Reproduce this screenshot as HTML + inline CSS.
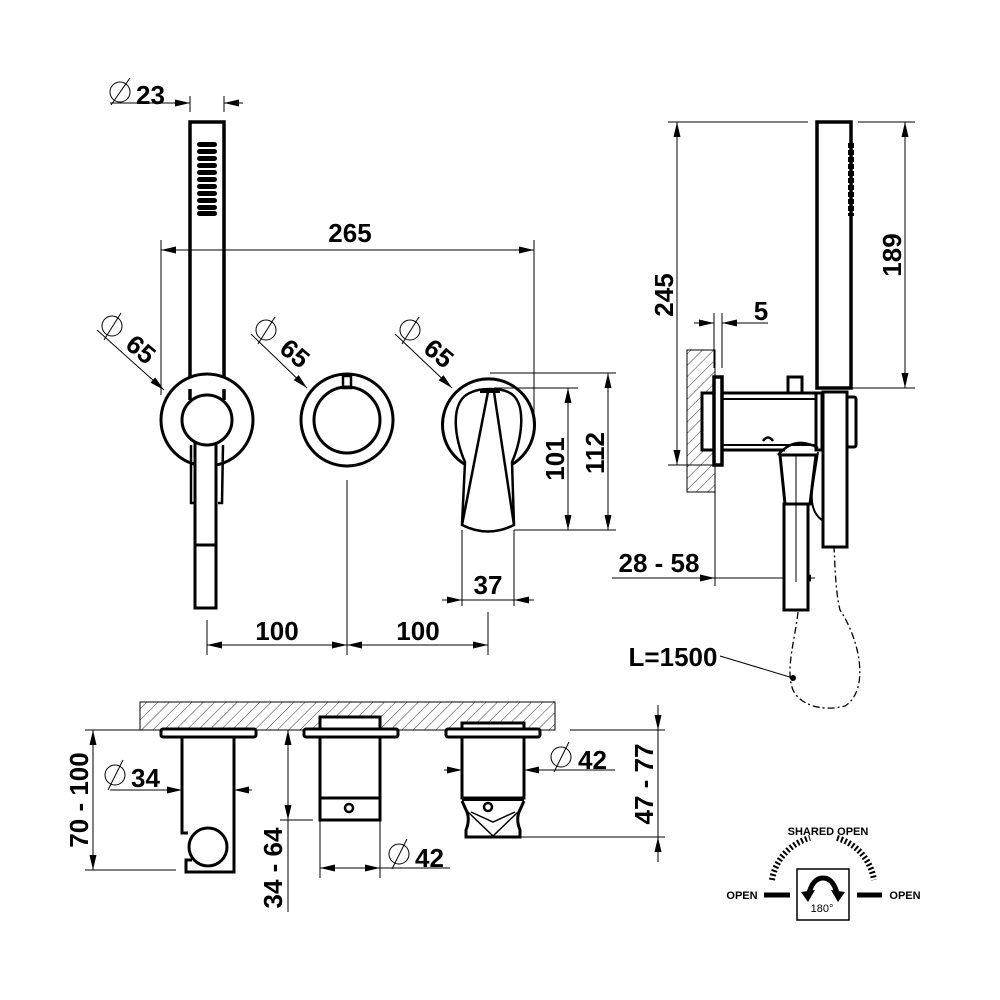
<!DOCTYPE html>
<html><head><meta charset="utf-8"><style>
html,body{margin:0;padding:0;background:#fff}
svg{display:block}
text{font-family:"Liberation Sans",Arial,sans-serif;font-weight:bold;fill:#000}
</style></head><body>
<svg width="1000" height="1000" viewBox="0 0 1000 1000" xmlns="http://www.w3.org/2000/svg">
<defs>
<marker id="a" markerUnits="userSpaceOnUse" markerWidth="16" markerHeight="8" refX="15" refY="3.5" orient="auto-start-reverse"><path d="M0,0 L15,3.5 L0,7 z" fill="#000"/></marker>
<pattern id="h" patternUnits="userSpaceOnUse" width="8" height="8" patternTransform="rotate(45)"><line x1="0" y1="0" x2="0" y2="8" stroke="#000" stroke-width="0.8"/></pattern>
</defs>
<g fill="none" stroke="#000">
<g stroke-width="1">
<line x1="110" y1="103" x2="190" y2="103" marker-end="url(#a)"/>
<line x1="243" y1="103" x2="224" y2="103" marker-end="url(#a)"/>
<line x1="190" y1="96" x2="190" y2="112"/><line x1="224" y1="96" x2="224" y2="112"/>
<circle cx="120" cy="92" r="10"/><line x1="111" y1="105" x2="130" y2="78"/>
</g>
<rect x="190" y="122" width="34" height="266" stroke-width="3.5"/>
<line x1="190" y1="387" x2="224" y2="387" stroke-width="5"/>
<g fill="#000" stroke="none">
<rect x="197" y="142" width="20" height="5" rx="2.5"/><rect x="197" y="149" width="20" height="5" rx="2.5"/><rect x="197" y="156" width="20" height="5" rx="2.5"/><rect x="197" y="163" width="20" height="5" rx="2.5"/><rect x="197" y="170" width="20" height="5" rx="2.5"/><rect x="197" y="177" width="20" height="5" rx="2.5"/><rect x="197" y="184" width="20" height="5" rx="2.5"/><rect x="197" y="191" width="20" height="5" rx="2.5"/><rect x="197" y="198" width="20" height="5" rx="2.5"/><rect x="197" y="205" width="20" height="5" rx="2.5"/><rect x="197" y="211" width="20" height="5" rx="2.5"/>
</g>
<g stroke-width="1">
<line x1="161" y1="250" x2="534" y2="250" marker-start="url(#a)" marker-end="url(#a)"/>
<line x1="161" y1="240" x2="161" y2="395"/><line x1="534" y1="240" x2="534" y2="420"/>
</g>
<circle cx="207" cy="420" r="46" stroke-width="3" fill="#fff"/>
<line x1="190" y1="389" x2="190" y2="400" stroke-width="3.5"/><line x1="224" y1="389" x2="224" y2="400" stroke-width="3.5"/>
<path d="M191,445 L191,503 L195,503 M223,445 L222,503 L218,503" stroke-width="2.5"/>
<rect x="195" y="440" width="21" height="168" stroke-width="3" fill="#fff"/>
<line x1="195" y1="545" x2="216" y2="545" stroke-width="3"/>
<circle cx="207" cy="420" r="25" stroke-width="3" fill="#fff"/>
<circle cx="347" cy="420" r="46" stroke-width="3"/>
<circle cx="347" cy="420" r="33" stroke-width="3"/>
<rect x="343" y="376" width="8" height="12" stroke-width="2.5"/>
<line x1="347" y1="480" x2="347" y2="655" stroke-width="1"/>
<path d="M466,465 A46,46 0 1,1 511,465" stroke-width="3"/>
<path d="M465,462 C455,440 448,400 472,392 C480,388 500,388 508,392 C528,400 522,440 512,462 L514,525 Q488,538 462,525 Z" stroke-width="2.5" fill="#fff"/>
<path d="M488,392 L462,525 M494,392 L514,525" stroke-width="2.5"/>
<line x1="480" y1="391" x2="500" y2="391" stroke-width="4"/>
<g stroke-width="1">
<line x1="490" y1="373" x2="616" y2="373"/><line x1="494" y1="388" x2="578" y2="388"/>
<line x1="514" y1="530" x2="616" y2="530"/>
<line x1="568" y1="388" x2="568" y2="530" marker-start="url(#a)" marker-end="url(#a)"/>
<line x1="608" y1="373" x2="608" y2="530" marker-start="url(#a)" marker-end="url(#a)"/>
<line x1="462" y1="530" x2="462" y2="606"/><line x1="514" y1="530" x2="514" y2="606"/>
<line x1="442" y1="600" x2="462" y2="600" marker-end="url(#a)"/>
<line x1="534" y1="600" x2="514" y2="600" marker-end="url(#a)"/>
<line x1="462" y1="600" x2="514" y2="600"/>
<line x1="207" y1="620" x2="207" y2="655"/><line x1="488" y1="612" x2="488" y2="655"/>
<line x1="207" y1="645" x2="347" y2="645" marker-start="url(#a)" marker-end="url(#a)"/>
<line x1="347" y1="645" x2="488" y2="645" marker-start="url(#a)" marker-end="url(#a)"/>
<line x1="97" y1="330" x2="164" y2="390" marker-end="url(#a)"/>
<line x1="251" y1="334" x2="307" y2="388" marker-end="url(#a)"/>
<line x1="395" y1="334" x2="452" y2="388" marker-end="url(#a)"/>
<circle cx="112" cy="326" r="10"/><line x1="104" y1="340" x2="121" y2="313"/>
<circle cx="266" cy="330" r="10"/><line x1="258" y1="344" x2="275" y2="317"/>
<circle cx="410" cy="330" r="10"/><line x1="402" y1="344" x2="419" y2="317"/>
</g>
</g>
<text x="136" y="104" font-size="26">23</text>
<text x="350" y="250" font-size="26" text-anchor="middle" dy="-8">265</text>
<text transform="translate(124,347) rotate(40)" font-size="26">65</text>
<text transform="translate(278,351) rotate(40)" font-size="26">65</text>
<text transform="translate(422,351) rotate(40)" font-size="26">65</text>
<text transform="translate(564,459) rotate(-90)" font-size="26" text-anchor="middle">101</text>
<text transform="translate(604,453) rotate(-90)" font-size="26" text-anchor="middle">112</text>
<text x="488" y="594" font-size="26" text-anchor="middle">37</text>
<text x="277" y="640" font-size="26" text-anchor="middle">100</text>
<text x="418" y="640" font-size="26" text-anchor="middle">100</text>

<g fill="none" stroke="#000">
<rect x="687" y="350" width="28" height="142" fill="url(#h)" stroke-width="1"/>
<g stroke-width="1">
<line x1="668" y1="122" x2="808" y2="122"/><line x1="668" y1="465" x2="718" y2="465"/>
<line x1="677" y1="122" x2="677" y2="465" marker-start="url(#a)" marker-end="url(#a)"/>
<line x1="858" y1="122" x2="915" y2="122"/><line x1="852" y1="388" x2="915" y2="388"/>
<line x1="905" y1="122" x2="905" y2="388" marker-start="url(#a)" marker-end="url(#a)"/>
<line x1="714" y1="313" x2="714" y2="368"/><line x1="722" y1="313" x2="722" y2="368"/>
<line x1="694" y1="323" x2="714" y2="323" marker-end="url(#a)"/>
<line x1="768" y1="323" x2="722" y2="323" marker-end="url(#a)"/>
<line x1="715" y1="465" x2="715" y2="586"/>
<line x1="612" y1="578" x2="715" y2="578" marker-end="url(#a)"/>
<line x1="715" y1="578" x2="815" y2="578"/>
<line x1="815" y1="578" x2="796" y2="578" marker-end="url(#a)"/>
</g>
<rect x="817" y="122" width="34" height="266" stroke-width="3.5"/>
<path d="M851,143 L851,216" stroke="#000" stroke-width="6" stroke-dasharray="5 2"/>
<rect x="702" y="393" width="13" height="57" stroke-width="3" fill="#fff"/>
<rect x="714" y="377" width="8" height="88" stroke-width="3.5" fill="#fff"/>
<line x1="722" y1="393" x2="817" y2="393" stroke-width="3"/><line x1="722" y1="399" x2="817" y2="399" stroke-width="2"/>
<line x1="722" y1="445" x2="817" y2="445" stroke-width="2"/><line x1="722" y1="450" x2="785" y2="450" stroke-width="3"/>
<rect x="788" y="377" width="14" height="16" stroke-width="3" fill="#fff"/>
<path d="M763,441 Q768,434 773,441" stroke-width="2.5"/>
<rect x="816" y="393" width="6" height="57" stroke-width="3"/>
<rect x="823" y="392" width="24" height="155" stroke-width="3" fill="#fff"/>
<rect x="847" y="397" width="9" height="50" rx="2" stroke-width="3"/>
<path d="M778,455 Q795,435 818,448" stroke-width="2.5"/>
<path d="M818,452 L812,490 Q810,512 822,520" stroke-width="2"/>
<path d="M780,455 L816,455 L810,504 L785,504 Z" stroke-width="3" fill="#fff"/>
<rect x="784" y="504" width="24" height="106" stroke-width="3" fill="#fff"/>
<line x1="796" y1="455" x2="796" y2="582" stroke-width="1"/>
<path d="M798,612 C795,640 785,670 793,690 C800,705 822,712 845,706 C870,690 860,640 840,610 C835,590 835,560 834,548" stroke-width="1.3" stroke-dasharray="7 3 2 3"/>
<line x1="720" y1="656" x2="793" y2="678" stroke-width="1"/>
<circle cx="793" cy="678" r="3" fill="#000" stroke="none"/>
</g>
<text transform="translate(673,295) rotate(-90)" font-size="26" text-anchor="middle">245</text>
<text transform="translate(901,255) rotate(-90)" font-size="26" text-anchor="middle">189</text>
<text x="761" y="320" font-size="26" text-anchor="middle">5</text>
<text x="659" y="572" font-size="26" text-anchor="middle">28 - 58</text>
<text x="673" y="666" font-size="26" text-anchor="middle">L=1500</text>

<g fill="none" stroke="#000">
<rect x="140" y="702" width="415" height="28" fill="url(#h)" stroke-width="1"/>
<line x1="85" y1="730" x2="140" y2="730" stroke-width="1"/>
<line x1="230" y1="730" x2="305" y2="730" stroke-width="1"/>
<line x1="570" y1="730" x2="665" y2="730" stroke-width="1"/>
<path d="M182,737 L182,833 L188,833 M234,737 L234,872 L186,872 L186,860 L192,860" stroke-width="3" fill="#fff"/>
<circle cx="208" cy="847" r="19" stroke-width="3"/>
<rect x="161" y="729" width="95" height="8" rx="2" stroke-width="3" fill="#fff"/>
<rect x="320" y="717" width="60" height="13" stroke-width="3" fill="#fff"/>
<rect x="320" y="737" width="60" height="83" stroke-width="3"/>
<line x1="320" y1="798" x2="380" y2="798" stroke-width="3"/>
<circle cx="349" cy="808" r="4" stroke-width="2.5"/>
<rect x="304" y="729" width="94" height="8" rx="2" stroke-width="3" fill="#fff"/>
<rect x="462" y="723" width="62" height="7" stroke-width="3" fill="#fff"/>
<rect x="462" y="737" width="62" height="61" stroke-width="3"/>
<line x1="462" y1="799" x2="524" y2="799" stroke-width="4"/>
<path d="M462,801 L467,812 Q470,820 466,830 L466,837 L520,837 L520,830 Q516,820 519,812 L524,801" stroke-width="3"/>
<path d="M468,812 L493,836 M518,812 L493,836 M471,812 L493,822 L515,812" stroke-width="1.5"/>
<circle cx="488" cy="807" r="4" stroke-width="2.5"/>
<rect x="446" y="729" width="94" height="8" rx="2" stroke-width="3" fill="#fff"/>
<g stroke-width="1">
<line x1="85" y1="870" x2="176" y2="870"/>
<line x1="93" y1="730" x2="93" y2="870" marker-start="url(#a)" marker-end="url(#a)"/>
<line x1="110" y1="790" x2="182" y2="790" marker-end="url(#a)"/>
<line x1="252" y1="790" x2="234" y2="790" marker-end="url(#a)"/>
<circle cx="115" cy="775" r="10"/><line x1="108" y1="790" x2="123" y2="760"/>
<line x1="288" y1="730" x2="288" y2="820" marker-start="url(#a)" marker-end="url(#a)"/>
<line x1="288" y1="820" x2="288" y2="912"/>
<line x1="280" y1="820" x2="313" y2="820"/>
<line x1="320" y1="820" x2="320" y2="878"/><line x1="380" y1="820" x2="380" y2="878"/>
<line x1="350" y1="868" x2="320" y2="868" marker-end="url(#a)"/>
<line x1="350" y1="868" x2="380" y2="868" marker-end="url(#a)"/>
<line x1="380" y1="868" x2="450" y2="868"/>
<circle cx="399" cy="854" r="10"/><line x1="392" y1="869" x2="407" y2="839"/>
<line x1="444" y1="770" x2="462" y2="770" marker-end="url(#a)"/>
<line x1="615" y1="770" x2="524" y2="770" marker-end="url(#a)"/>
<circle cx="561" cy="757" r="10"/><line x1="554" y1="772" x2="569" y2="742"/>
<line x1="520" y1="837" x2="665" y2="837"/>
<line x1="658" y1="705" x2="658" y2="730" marker-end="url(#a)"/>
<line x1="658" y1="862" x2="658" y2="837" marker-end="url(#a)"/>
<line x1="658" y1="730" x2="658" y2="837"/>
</g>
</g>
<text transform="translate(88,800) rotate(-90)" font-size="26" text-anchor="middle">70 - 100</text>
<text x="131" y="787" font-size="26">34</text>
<text transform="translate(282,868) rotate(-90)" font-size="26" text-anchor="middle">34 - 64</text>
<text x="415" y="867" font-size="26">42</text>
<text x="578" y="769" font-size="26">42</text>
<text transform="translate(653,784) rotate(-90)" font-size="26" text-anchor="middle">47 - 77</text>

<g fill="none" stroke="#000">
<path d="M772,880 A52,52 0 0,1 810,838" stroke-width="6" stroke-dasharray="2 2.2"/>
<path d="M837,838 A52,52 0 0,1 874,880" stroke-width="6" stroke-dasharray="2 2.2"/>
<line x1="764" y1="895" x2="790" y2="895" stroke-width="5"/>
<line x1="857" y1="895" x2="882" y2="895" stroke-width="5"/>
<rect x="797" y="869" width="52" height="51" stroke-width="1.5"/>
<path d="M808,897 Q812,878 823,878 Q834,878 838,897" stroke-width="5"/>
</g>
<path d="M801,892 L815,890 L808,902 Z M845,892 L831,890 L838,902 Z" fill="#000"/>
<text x="828" y="835" font-size="11" text-anchor="middle">SHARED OPEN</text>
<text x="742" y="899" font-size="11" text-anchor="middle">OPEN</text>
<text x="905" y="899" font-size="11" text-anchor="middle">OPEN</text>
<text x="822" y="912" font-size="11" text-anchor="middle" style="font-weight:normal">180°</text>
</svg>
</body></html>
